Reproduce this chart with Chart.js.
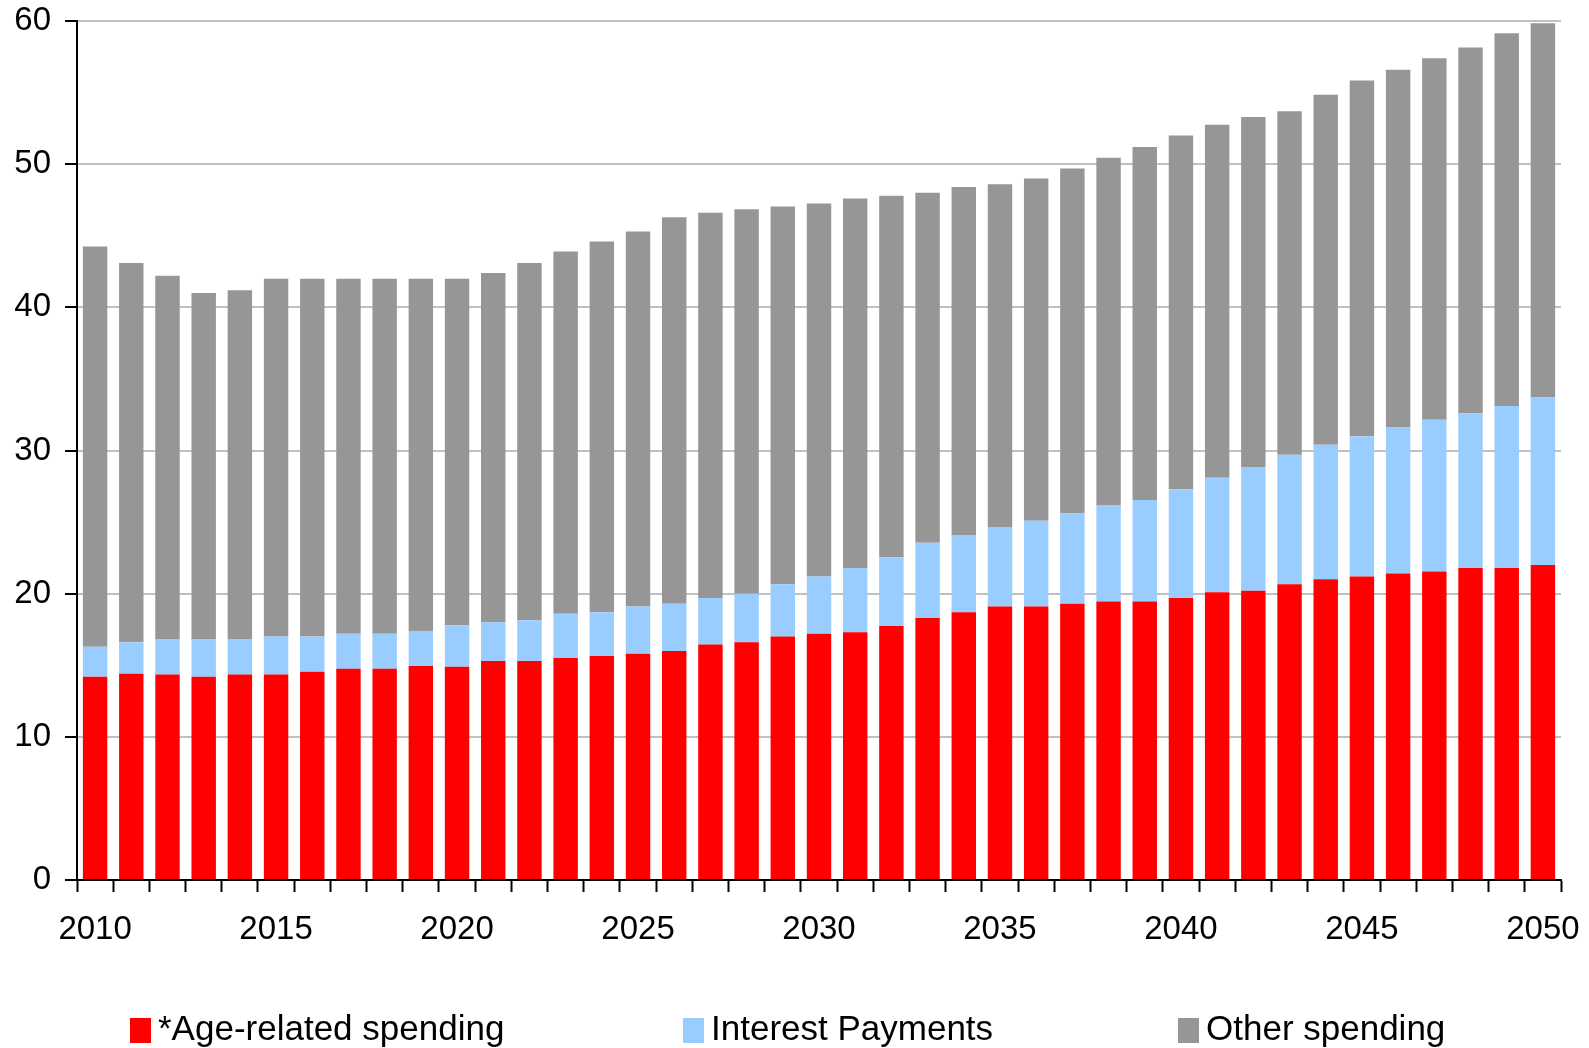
<!DOCTYPE html>
<html>
<head>
<meta charset="utf-8">
<script src="https://cdn.jsdelivr.net/npm/chart.js@4/dist/chart.umd.min.js"></script>
<style>
  html, body { margin: 0; padding: 0; background: #fff; }
  #wrap { position: relative; width: 1589px; height: 1048px; overflow: hidden; }
  #legend {
    position: absolute; left: 0; top: 1008px; width: 1589px; height: 40px;
    font-family: "Liberation Sans", Arial, sans-serif; font-size: 35px; color: #000;
  }
  .item { position: absolute; top: 0; height: 40px; line-height: 40px; white-space: nowrap; }
  .box { display: inline-block; width: 21px; height: 25px; vertical-align: -3px; margin-right: 7px; }
</style>
</head>
<body>
<div id="wrap">
  <canvas id="chart" width="1589" height="1048"></canvas>
  <div id="legend"></div>
</div>
<script>
var years = [];
for (var y = 2010; y <= 2050; y++) years.push(String(y));

// *Age-related spending
var ageSpending = [14.2, 14.4, 14.35, 14.2, 14.35, 14.35, 14.55, 14.75, 14.75, 14.95,
  14.9, 15.3, 15.3, 15.5, 15.65, 15.8, 16.0, 16.45, 16.6, 17.0,
  17.2, 17.3, 17.75, 18.3, 18.7, 19.1, 19.1, 19.3, 19.45, 19.45,
  19.7, 20.1, 20.2, 20.65, 21.0, 21.2, 21.4, 21.55, 21.8, 21.8, 22.0];

// Interest Payments
var interestPayments = [2.1, 2.2, 2.45, 2.6, 2.45, 2.65, 2.45, 2.45, 2.45, 2.45,
  2.9, 2.7, 2.85, 3.1, 3.05, 3.3, 3.3, 3.25, 3.4, 3.65,
  4.0, 4.5, 4.8, 5.25, 5.4, 5.55, 6.0, 6.3, 6.75, 7.1,
  7.6, 8.0, 8.65, 9.05, 9.4, 9.8, 10.2, 10.6, 10.8, 11.3, 11.7];

// Other spending
var otherSpending = [27.95, 26.5, 25.4, 24.2, 24.4, 25.0, 25.0, 24.8, 24.8, 24.6,
  24.2, 24.4, 24.95, 25.3, 25.9, 26.2, 27.0, 26.9, 26.85, 26.4,
  26.05, 25.8, 25.25, 24.45, 24.3, 23.95, 23.9, 24.1, 24.25, 24.65,
  24.7, 24.65, 24.45, 24.0, 24.45, 24.85, 25.0, 25.25, 25.55, 26.05, 26.15];

var yTicks = [0, 10, 20, 30, 40, 50, 60];

var seriesNames = ['*Age-related spending', 'Interest Payments', 'Other spending'];
var seriesColors = ['#ff0000', '#99ccff', '#969696'];
var legendLeft = [130, 683, 1178];

var font = { family: '"Liberation Sans", Arial, sans-serif', size: 33 };

var ctx = document.getElementById('chart').getContext('2d');
var chart = new Chart(ctx, {
  type: 'bar',
  data: {
    labels: years,
    datasets: [
      { label: seriesNames[0], data: ageSpending, backgroundColor: seriesColors[0] },
      { label: seriesNames[1], data: interestPayments, backgroundColor: seriesColors[1] },
      { label: seriesNames[2], data: otherSpending, backgroundColor: seriesColors[2] }
    ]
  },
  options: {
    responsive: false,
    animation: false,
    layout: { padding: { top: 21, right: 28, left: 0, bottom: 0 } },
    datasets: {
      bar: { barPercentage: 0.675, categoryPercentage: 1, borderWidth: 0 }
    },
    plugins: {
      legend: { display: false },
      tooltip: { enabled: false }
    },
    scales: {
      x: {
        stacked: true,
        grid: { drawOnChartArea: false, offset: true, tickColor: '#000', tickWidth: 2, tickLength: 12 },
        border: { color: '#000', width: 2 },
        ticks: {
          autoSkip: false, maxRotation: 0, padding: 18, color: '#000', font: font,
          callback: function (v, i) {
            var yr = Number(years[i]);
            return yr % 5 === 0 ? years[i] : '';
          }
        },
        afterFit: function (scale) {
          scale.height = 168;
          scale.paddingLeft = 0;
          scale.paddingRight = 0;
        }
      },
      y: {
        stacked: true,
        min: 0, max: 60,
        afterBuildTicks: function (scale) {
          scale.ticks = yTicks.map(function (v) { return { value: v }; });
        },
        grid: { color: '#c0c0c0', lineWidth: 2, tickColor: '#000', tickWidth: 2, tickLength: 12 },
        border: { color: '#000', width: 2 },
        ticks: { padding: 14, color: '#000', font: font },
        afterFit: function (scale) {
          scale.width = 77;
          scale.paddingTop = 0;
          scale.paddingBottom = 0;
        }
      }
    }
  }
});

var legend = document.getElementById('legend');
seriesNames.forEach(function (name, i) {
  var item = document.createElement('div');
  item.className = 'item';
  item.style.left = legendLeft[i] + 'px';
  var box = document.createElement('span');
  box.className = 'box';
  box.style.background = seriesColors[i];
  item.appendChild(box);
  item.appendChild(document.createTextNode(name));
  legend.appendChild(item);
});
</script>
</body>
</html>
